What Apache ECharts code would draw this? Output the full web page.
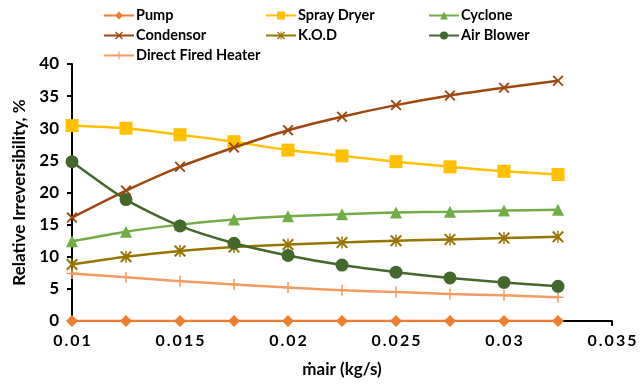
<!DOCTYPE html>
<html>
<head>
<meta charset="utf-8">
<script src="https://cdn.jsdelivr.net/npm/echarts@6/dist/echarts.min.js"></script>
<style>
  html, body { margin: 0; padding: 0; background: #fff; }
  #chart { width: 641px; height: 385px; }
</style>
</head>
<body>
<div id="chart"></div>
<script>
// Air mass flow rate (kg/s)
const massFlow = [0.01, 0.0125, 0.015, 0.0175, 0.02, 0.0225, 0.025, 0.0275, 0.03, 0.0325];
const xTicks = ['0.01', '0.015', '0.02', '0.025', '0.03', '0.035'];
const yTicks = [0, 5, 10, 15, 20, 25, 30, 35, 40];

// Relative irreversibility of each component, %
const pump = [0, 0, 0, 0, 0, 0, 0, 0, 0, 0];
const sprayDryer = [30.4, 30.0, 29.0, 27.9, 26.6, 25.7, 24.8, 24.0, 23.3, 22.8];
const cyclone = [12.4, 13.9, 15.0, 15.8, 16.3, 16.6, 16.9, 17.0, 17.2, 17.3];
const condensor = [16.1, 20.3, 24.0, 27.0, 29.7, 31.8, 33.6, 35.1, 36.3, 37.4];
const kod = [8.8, 10.0, 10.9, 11.5, 11.9, 12.2, 12.5, 12.7, 12.9, 13.1];
const airBlower = [24.8, 18.9, 14.8, 12.1, 10.2, 8.7, 7.6, 6.7, 6.0, 5.4];
const directFiredHeater = [7.4, 6.8, 6.2, 5.7, 5.2, 4.8, 4.5, 4.2, 4.0, 3.7];

const FONT = 'Lato';

const SYM_X = 'path://M0,1.2L1.2,0L5,3.8L8.8,0L10,1.2L6.2,5L10,8.8L8.8,10L5,6.2L1.2,10L0,8.8L3.8,5Z';
const SYM_STAR = 'path://M0,1.2L1.2,0L4.4,3.2V0H5.6V3.2L8.8,0L10,1.2L6.2,5L10,8.8L8.8,10L5.6,6.8V10H4.4V6.8L1.2,10L0,8.8L3.8,5Z';
const SYM_PLUS = 'path://M4.3,0H5.7V4.3H10V5.7H5.7V10H4.3V5.7H0V4.3H4.3Z';

function pairs(values) {
  return values.map((v, i) => [massFlow[i], v]);
}

function makeSeries(name, values, color, symbol, size, z) {
  return {
    name: name,
    type: 'line',
    data: pairs(values),
    smooth: 0.25,
    symbol: symbol,
    symbolSize: size,
    showSymbol: true,
    z: z,
    lineStyle: { color: color, width: 2.5 },
    itemStyle: { color: color, borderColor: color, borderWidth: 0, opacity: 1 },
    emphasis: { disabled: true },
    animation: false
  };
}

const series = [
  makeSeries('Pump', pump, '#ED7D31', 'diamond', 12, 7),
  makeSeries('Spray Dryer', sprayDryer, '#FFC000', 'rect', 13, 3),
  makeSeries('Cyclone', cyclone, '#70AD47', 'triangle', 12, 4),
  makeSeries('Condensor', condensor, '#9E480E', SYM_X, 11, 5),
  makeSeries('K.O.D', kod, '#997300', SYM_STAR, 12, 3),
  makeSeries('Air Blower', airBlower, '#43682B', 'circle', 13, 6),
  makeSeries('Direct Fired Heater', directFiredHeater, '#F29C61', SYM_PLUS, 11, 2)
];

function legendBlock(left, names) {
  return {
    left: left,
    top: 8,
    orient: 'vertical',
    itemWidth: 30,
    itemHeight: 10,
    itemGap: 5,
    padding: 0,
    selectedMode: false,
    data: names,
    textStyle: { fontFamily: FONT, fontWeight: 'bold', fontSize: 14.5, color: '#000', padding: [0, 0, 0, -3] }
  };
}

// spread the digits of the x tick labels slightly
function spaced(s) {
  return s.split('').join('\u2009');
}

const chart = echarts.init(document.getElementById('chart'), null, { renderer: 'canvas' });
chart.setOption({
  backgroundColor: '#fff',
  animation: false,
  legend: [
    legendBlock(103, ['Pump', 'Condensor', 'Direct Fired Heater']),
    legendBlock(265, ['Spray Dryer', 'K.O.D']),
    legendBlock(428, ['Cyclone', 'Air Blower'])
  ],
  grid: { left: 72, right: 29, top: 64, bottom: 64, containLabel: false },
  xAxis: {
    type: 'value',
    min: 0.01,
    max: 0.035,
    interval: 0.005,
    name: 'ṁair (kg/s)',
    nameLocation: 'middle',
    nameGap: 40,
    nameTextStyle: { fontFamily: FONT, fontWeight: 'bold', fontSize: 17, color: '#000' },
    axisLine: { lineStyle: { color: '#000', width: 2 } },
    axisTick: { show: true, inside: false, length: 5, lineStyle: { color: '#000', width: 2 } },
    axisLabel: {
      fontFamily: FONT, fontWeight: 'bold', fontSize: 16, color: '#000', margin: 12,
      formatter: function (v) {
        const i = Math.round((v - 0.01) / 0.005);
        return xTicks[i] !== undefined ? spaced(xTicks[i]) : '';
      }
    },
    splitLine: { show: false }
  },
  yAxis: {
    type: 'value',
    min: yTicks[0],
    max: yTicks[yTicks.length - 1],
    interval: 5,
    name: 'Relative Irreversibility, %',
    nameLocation: 'middle',
    nameRotate: 90,
    nameGap: 41,
    nameTextStyle: { fontFamily: FONT, fontWeight: 'bold', fontSize: 17, color: '#000' },
    axisLine: { show: true, lineStyle: { color: '#000', width: 2 } },
    axisTick: { show: true, inside: false, length: 5, lineStyle: { color: '#000', width: 2 } },
    axisLabel: { fontFamily: FONT, fontWeight: 'bold', fontSize: 17, color: '#000', margin: 13 },
    splitLine: { show: false }
  },
  series: series
});
</script>
</body>
</html>
